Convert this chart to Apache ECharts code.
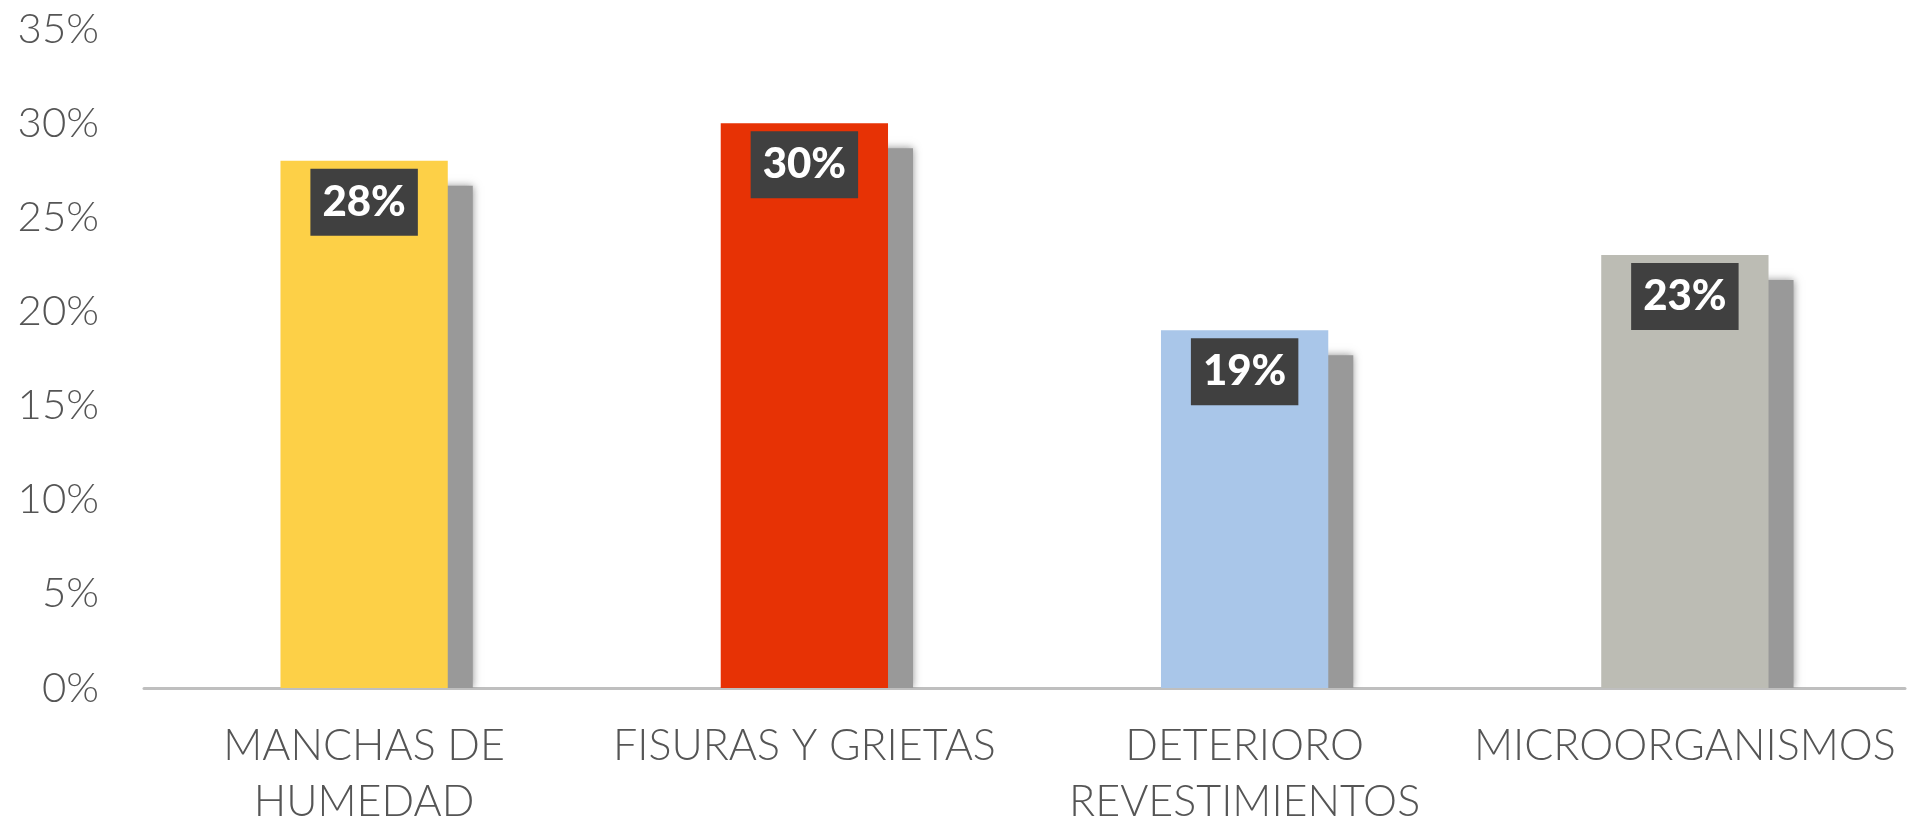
<!DOCTYPE html>
<html>
<head>
<meta charset="utf-8">
<style>
  html, body { margin: 0; padding: 0; background: #ffffff; }
  #chart { width: 1916px; height: 822px; }
</style>
<script src="https://cdn.jsdelivr.net/npm/echarts@6/dist/echarts.min.js"></script>
</head>
<body>
<div id="chart"></div>
<script>
// Categories (line breaks as printed under the axis)
const categories = ['MANCHAS DE\nHUMEDAD', 'FISURAS Y GRIETAS', 'DETERIORO\nREVESTIMIENTOS', 'MICROORGANISMOS'];
// Share of each pathology, in percent
const values = [28, 30, 19, 23];
const barColors = ['#FDD047', '#E73205', '#A9C6E9', '#BCBCB4'];
// Y axis range and step (percent)
const yMin = 0, yMax = 35, yStep = 5;

const chart = echarts.init(document.getElementById('chart'));

const BAR_RATIO = 0.38;
const SHADOW_DX = 25, SHADOW_DY = 25;
const TEXT_FONT = 'Lato, "Open Sans", sans-serif';

chart.setOption({
  animation: false,
  grid: { left: 144, right: 11, top: 29, bottom: 134, containLabel: false, outerBoundsMode: 'none' },
  xAxis: {
    type: 'category',
    data: categories,
    axisLine: { show: true, lineStyle: { color: '#BFBFBF', width: 3 } },
    axisTick: { show: false },
    axisLabel: {
      color: '#555555',
      fontFamily: TEXT_FONT,
      fontWeight: 300,
      fontSize: 43,
      lineHeight: 56,
      margin: 30,
      interval: 0
    },
    splitLine: { show: false }
  },
  yAxis: {
    type: 'value',
    min: yMin,
    max: yMax,
    interval: yStep,
    axisLine: { show: false },
    axisTick: { show: false },
    splitLine: { show: false },
    axisLabel: {
      formatter: '{value}%',
      color: '#555555',
      fontFamily: TEXT_FONT,
      fontWeight: 300,
      fontSize: 42,
      margin: 45
    }
  },
  series: [
    {
      // drop shadow behind each bar, clipped at the baseline
      type: 'custom',
      z: 1,
      clip: true,
      silent: true,
      data: values.map((v, i) => [i, v]),
      renderItem: function (params, api) {
        const top = api.coord([api.value(0), api.value(1)]);
        const base = api.coord([api.value(0), 0]);
        const w = api.size([1, 0])[0] * BAR_RATIO;
        const y = top[1] + SHADOW_DY;
        return {
          type: 'rect',
          shape: { x: top[0] - w / 2 + SHADOW_DX, y: y, width: w, height: base[1] - y },
          style: {
            fill: '#999999',
            shadowBlur: 8,
            shadowColor: 'rgba(120,120,120,0.8)'
          }
        };
      }
    },
    {
      type: 'bar',
      z: 2,
      barWidth: (BAR_RATIO * 100) + '%',
      data: values.map((v, i) => ({ value: v, itemStyle: { color: barColors[i] } })),
      label: {
        show: true,
        position: 'insideTop',
        distance: 8,
        formatter: '{c}%',
        color: '#ffffff',
        backgroundColor: '#404040',
        fontFamily: TEXT_FONT,
        fontWeight: 900,
        fontSize: 42,
        lineHeight: 43,
        padding: [12, 12, 12, 12]
      }
    }
  ]
});
</script>
</body>
</html>
